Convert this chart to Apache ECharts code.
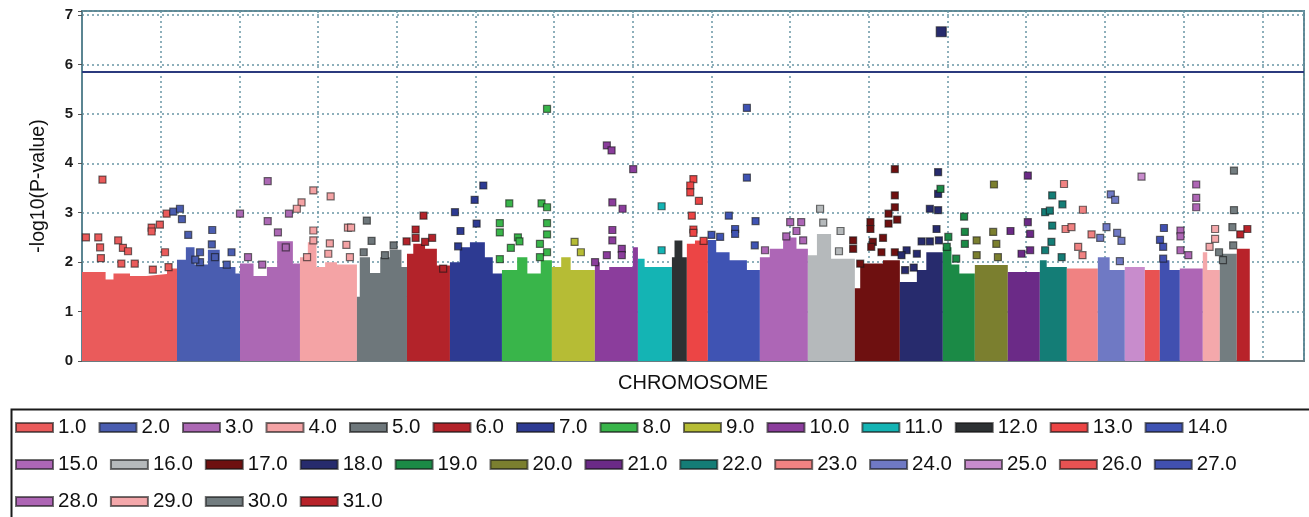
<!DOCTYPE html>
<html>
<head>
<meta charset="utf-8">
<title>Manhattan plot</title>
<script src="https://cdn.jsdelivr.net/npm/echarts@6/dist/echarts.min.js"></script>
<style>
  html, body { margin: 0; padding: 0; background: #fff; }
  #chart { width: 1309px; height: 517px; }
</style>
</head>
<body>
<div id="chart"></div>
<script>
// chromosome labels as in the legend
const chromNames = ['1.0', '2.0', '3.0', '4.0', '5.0', '6.0', '7.0', '8.0', '9.0', '10.0',
  '11.0', '12.0', '13.0', '14.0', '15.0', '16.0', '17.0', '18.0', '19.0', '20.0',
  '21.0', '22.0', '23.0', '24.0', '25.0', '26.0', '27.0', '28.0', '29.0', '30.0', '31.0'];

// genome-wide significance line, -log10(P)
const threshold = 5.86;

// dense lower part of each chromosome: [position, top of the solid block]
const bodies = [
  [[0, 1.8], [3, 1.65], [4, 1.77], [6.1, 1.72], [8.2, 1.76], [10.8, 1.87], [12.07, 1.87]],
  [[12.07, 2.05], [13.2, 2.3], [14.3, 1.95], [16, 2.25], [17.5, 1.9], [19.5, 1.77], [20.08, 1.77]],
  [[20.08, 1.97], [21.8, 1.72], [23.5, 1.9], [24.8, 2.42], [26.8, 1.97], [27.7, 1.97]],
  [[27.7, 2.1], [28.7, 2.4], [29.8, 1.9], [30.9, 2.0], [32.4, 1.95], [34.94, 1.95]],
  [[34.94, 1.3], [35.3, 2.1], [36.6, 1.78], [37.9, 2.1], [39.1, 2.25], [40.6, 1.9], [41.3, 1.9]],
  [[41.3, 2.17], [42.1, 2.37], [43.6, 2.27], [45.1, 1.93], [46.76, 1.93]],
  [[46.76, 2.0], [48, 2.3], [49.3, 2.4], [51.2, 2.1], [52.2, 1.77], [53.37, 1.77]],
  [[53.37, 1.84], [55.3, 2.1], [56.6, 1.77], [58.3, 2.04], [59.72, 2.04]],
  [[59.72, 1.9], [60.9, 2.1], [62.1, 1.84], [65.18, 1.84]],
  [[65.18, 2.0], [65.8, 1.84], [67, 1.9], [70, 2.3], [70.65, 2.3]],
  [[70.65, 2.07], [71.5, 1.9], [74.97, 1.9]],
  [[74.97, 2.1], [75.3, 2.44], [76.3, 2.1], [76.87, 2.1]],
  [[76.87, 2.37], [77.9, 2.44], [79.54, 2.44]],
  [[79.54, 2.45], [80.6, 2.2], [82.3, 2.04], [84.5, 1.84], [86.15, 1.84]],
  [[86.15, 2.1], [87.4, 2.27], [89.1, 2.5], [90.8, 2.27], [92.25, 2.27]],
  [[92.25, 2.14], [93.4, 2.57], [95.2, 2.07], [98.22, 2.07]],
  [[98.22, 1.47], [98.9, 1.97], [101.8, 2.04], [103.94, 2.04]],
  [[103.94, 1.6], [106.1, 1.84], [107.3, 2.2], [109.4, 2.2]],
  [[109.4, 2.3], [110.5, 1.95], [111.5, 1.77], [113.47, 1.77]],
  [[113.47, 1.94], [117.66, 1.94]],
  [[117.66, 1.8], [121.73, 1.8]],
  [[121.73, 2.04], [122.6, 1.9], [125.16, 1.9]],
  [[125.16, 1.87], [129.1, 1.87]],
  [[129.1, 2.1], [130.6, 1.84], [132.53, 1.84]],
  [[132.53, 1.9], [135.07, 1.9]],
  [[135.07, 1.84], [136.98, 1.84]],
  [[136.98, 2.04], [138.2, 1.84], [139.52, 1.84]],
  [[139.52, 1.87], [142.44, 1.87]],
  [[142.44, 2.2], [143.0, 1.84], [144.6, 1.84]],
  [[144.6, 2.17], [146.76, 2.17]],
  [[146.76, 2.27], [148.41, 2.27]]
];

// markers standing out above the dense block: [position, -log10(P)]
const hits = [
  [[2.6, 3.67], [0.5, 2.5], [2.07, 2.5], [2.3, 2.3], [2.4, 2.08], [4.6, 2.44], [5.2, 2.29], [5.85, 2.22], [6.7, 1.97], [5.0, 1.97], [8.85, 2.7], [8.85, 2.62], [9.9, 2.76], [10.75, 2.98], [10.55, 2.2], [9.0, 1.85], [11.0, 1.9]],
  [[11.6, 3.02], [12.45, 3.08], [12.7, 2.87], [13.5, 2.55], [16.55, 2.65], [15.0, 2.2], [16.5, 2.36], [19.0, 2.2], [15.0, 2.0], [18.4, 1.95], [14.4, 2.05], [16.9, 2.1]],
  [[20.08, 2.98], [23.6, 3.64], [23.6, 2.83], [26.3, 2.98], [24.9, 2.6], [21.1, 2.1], [25.9, 2.3], [22.9, 1.95]],
  [[29.4, 3.45], [27.9, 3.21], [27.3, 3.08], [31.6, 3.33], [29.4, 2.64], [29.4, 2.44], [33.8, 2.7], [34.2, 2.7], [31.5, 2.38], [33.6, 2.35], [34.05, 2.1], [31.3, 2.17], [28.6, 2.1]],
  [[36.2, 2.84], [36.8, 2.43], [39.6, 2.34], [38.5, 2.14], [35.8, 2.2]],
  [[43.4, 2.94], [42.4, 2.66], [42.4, 2.49], [44.5, 2.49], [43.6, 2.41], [41.25, 2.42], [45.9, 1.87]],
  [[47.4, 3.01], [48.1, 2.63], [47.8, 2.32], [51.0, 3.55], [49.9, 3.26], [50.15, 2.78]],
  [[59.1, 5.1], [54.3, 3.19], [53.1, 2.79], [53.1, 2.6], [55.4, 2.5], [55.6, 2.42], [54.5, 2.29], [53.1, 2.06], [58.4, 3.19], [59.1, 3.11], [59.1, 2.79], [59.1, 2.56], [58.2, 2.37], [59.1, 2.2], [58.2, 2.1]],
  [[62.6, 2.41], [63.4, 2.2]],
  [[66.7, 4.36], [67.3, 4.26], [70.05, 3.88], [67.4, 3.21], [68.7, 3.08], [67.4, 2.65], [67.4, 2.44], [68.6, 2.27], [68.6, 2.14], [66.7, 2.14], [65.2, 2.0]],
  [[73.66, 3.13], [73.66, 2.24]],
  [],
  [[77.7, 3.68], [77.3, 3.55], [77.3, 3.41], [78.4, 3.24], [77.5, 2.94], [77.7, 2.66], [77.7, 2.59], [79.0, 2.43]],
  [[84.5, 5.12], [84.5, 3.71], [82.2, 2.94], [85.6, 2.83], [83.0, 2.67], [83.0, 2.57], [85.5, 2.34], [81.1, 2.51], [80.0, 2.55]],
  [[90.0, 2.81], [91.4, 2.81], [90.8, 2.63], [91.65, 2.44], [89.5, 2.52], [86.8, 2.24]],
  [[93.8, 3.08], [96.4, 2.63], [96.2, 2.22], [94.2, 2.8]],
  [[103.3, 3.88], [103.3, 3.35], [103.3, 3.11], [102.5, 2.98], [103.6, 2.86], [102.5, 2.78], [100.2, 2.81], [100.2, 2.67], [98.0, 2.44], [98.0, 2.27], [101.8, 2.49], [100.5, 2.41], [100.3, 2.31], [101.6, 2.2], [103.3, 2.2], [98.9, 1.97]],
  [[109.2, 6.66], [108.8, 3.82], [108.8, 3.38], [107.75, 3.08], [108.8, 3.05], [108.6, 2.67], [106.7, 2.42], [107.75, 2.42], [108.9, 2.44], [104.8, 2.24], [106.1, 2.17], [104.15, 2.14], [105.7, 1.89], [104.6, 1.84]],
  [[109.1, 3.48], [112.1, 2.92], [110.1, 2.51], [112.2, 2.61], [112.2, 2.37], [109.9, 2.31], [111.1, 2.07]],
  [[115.9, 3.57], [115.8, 2.61], [113.7, 2.44], [116.2, 2.37], [116.4, 2.1], [113.7, 2.14]],
  [[120.2, 3.75], [120.2, 2.81], [118.0, 2.63], [120.5, 2.57], [120.5, 2.24], [119.4, 2.17]],
  [[123.3, 3.35], [124.6, 3.17], [122.4, 3.01], [123.0, 3.04], [123.3, 2.74], [123.2, 2.41], [122.4, 2.24], [124.5, 2.1]],
  [[124.8, 3.58], [127.2, 3.06], [125.0, 2.67], [125.75, 2.71], [128.3, 2.56], [126.6, 2.31], [127.15, 2.14]],
  [[130.75, 3.37], [131.3, 3.26], [130.2, 2.71], [131.55, 2.59], [132.1, 2.43], [129.4, 2.49], [131.9, 2.02]],
  [[134.65, 3.73]],
  [],
  [[137.5, 2.69], [137.0, 2.45], [137.4, 2.31], [137.4, 2.07]],
  [[141.6, 3.57], [141.6, 3.3], [141.6, 3.11], [139.6, 2.64], [139.6, 2.52], [139.6, 2.24], [140.6, 2.14]],
  [[144.0, 2.67], [144.0, 2.47], [143.3, 2.31]],
  [[146.4, 3.85], [146.4, 3.05], [146.2, 2.71], [146.3, 2.34], [144.5, 2.2], [145.0, 2.04]],
  [[148.1, 2.67], [147.2, 2.56]]
];

// colours per chromosome
const chromColors = ['#ea5b5b', '#4a5db0', '#ac68b4', '#f4a3a5', '#6e777b', '#b3232a', '#2d3a92',
  '#39b54a', '#b6bc35', '#8b3d9c', '#14b4b4', '#2d3133', '#ec4545', '#3f53b3', '#ad66b6',
  '#b5b9bb', '#6e1010', '#272b6d', '#1b8a46', '#7b7f2f', '#6b2a87', '#147d76', '#f08282',
  '#6f79c4', '#c88ccc', '#e85252', '#4150b0', '#ae66b5', '#f4a8ab', '#737d80', '#b8232a'];

const chart = echarts.init(document.getElementById('chart'), null, { renderer: 'canvas' });

const series = [];
// scatter first so the legend takes its look from the squares
chromNames.forEach(function (name, i) {
  series.push({
    name: name,
    type: 'scatter',
    data: hits[i],
    symbol: 'rect',
    symbolSize: function (v) { return v[1] > 6 ? 10 : 7; },
    itemStyle: { color: chromColors[i], opacity: 1, borderColor: 'rgba(20,20,20,0.6)', borderWidth: 1.2 },
    z: 4,
    silent: true
  });
});
chromNames.forEach(function (name, i) {
  series.push({
    name: name,
    type: 'line',
    step: 'end',
    data: bodies[i],
    symbol: 'none',
    showSymbol: false,
    lineStyle: { width: 0 },
    itemStyle: { color: chromColors[i] },
    areaStyle: { color: chromColors[i], opacity: 1 },
    z: 2,
    silent: true
  });
});
series[0].markLine = {
  silent: true,
  symbol: ['none', 'none'],
  label: { show: false },
  lineStyle: { color: '#2b3a7e', width: 2, type: 'solid' },
  data: [{ yAxis: threshold }]
};

// legend rows break after 14.0 and 27.0
const legendData = [];
chromNames.forEach(function (name) {
  legendData.push(name);
  if (name === '14.0') legendData.push('');
  if (name === '27.0') legendData.push('\n');
});

const gridLine = { color: '#6a97a5', type: [2, 3], width: 1.5 };

chart.setOption({
  animation: false,
  backgroundColor: '#ffffff',
  textStyle: { fontFamily: '"Liberation Sans", Arial, sans-serif' },
  grid: {
    left: 82, right: 5, top: 11, bottom: 156,
    show: true, borderColor: '#5f8792', borderWidth: 2
  },
  xAxis: {
    type: 'value',
    min: 0,
    max: 155.3,
    interval: 10,
    axisLine: { show: true, lineStyle: { color: '#6b7b80', width: 2 } },
    axisTick: { show: false },
    axisLabel: { show: false },
    splitLine: { show: true, lineStyle: gridLine },
    name: 'CHROMOSOME',
    nameLocation: 'middle',
    nameGap: 12,
    nameTextStyle: { fontSize: 20, color: '#111' }
  },
  yAxis: {
    type: 'value',
    min: 0,
    max: 7.08,
    interval: 1,
    axisLine: { show: true, lineStyle: { color: '#5b8592', width: 2 } },
    axisTick: { show: true, length: 4, lineStyle: { color: '#555' } },
    axisLabel: {
      margin: 9,
      fontSize: 15,
      fontWeight: 'bold',
      color: '#1a1a1a',
      formatter: function (v) { return Number.isInteger(v) ? String(v) : ''; }
    },
    splitLine: { show: true, lineStyle: gridLine },
    name: '-log10(P-value)',
    nameLocation: 'middle',
    nameGap: 33,
    nameTextStyle: { fontSize: 19.5, color: '#111' }
  },
  legend: {
    data: legendData,
    selectedMode: false,
    left: 15,
    top: 415,
    width: 1260,
    padding: 0,
    icon: 'rect',
    itemWidth: 37,
    itemHeight: 9,
    itemGap: 12,
    textStyle: {
      fontFamily: '"Liberation Sans", Arial, sans-serif',
      fontSize: 20.5,
      lineHeight: 25,
      color: '#111'
    }
  },
  graphic: [{
    type: 'rect',
    left: 9,
    top: 407,
    z: -1,
    shape: { width: 1400, height: 200 },
    style: { fill: 'none', stroke: '#1a1a1a', lineWidth: 2 }
  }],
  series: series
});
</script>
</body>
</html>
